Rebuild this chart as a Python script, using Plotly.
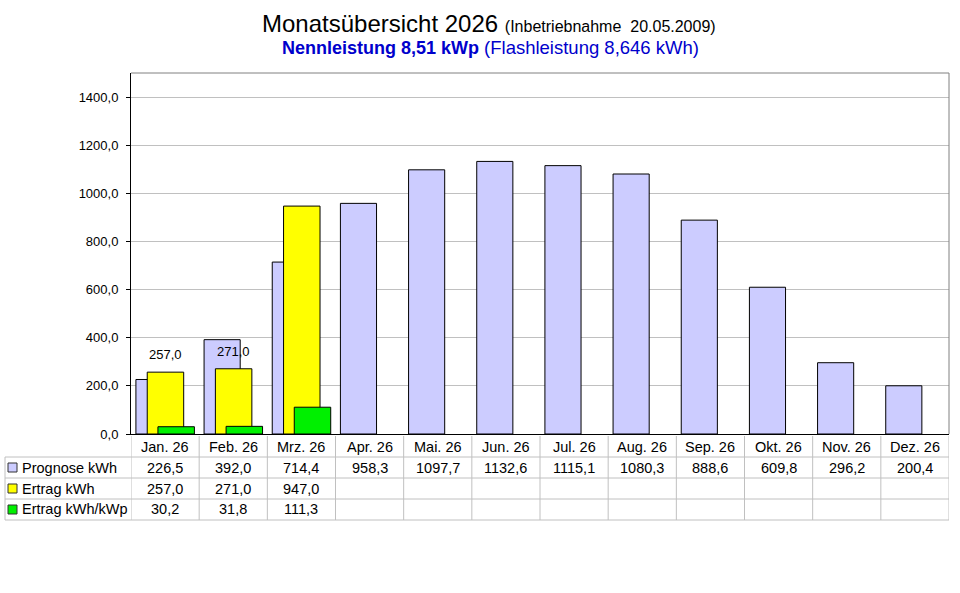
import plotly.graph_objects as go

# ---------------- data ----------------
months = ["Jan. 26", "Feb. 26", "Mrz. 26", "Apr. 26", "Mai. 26", "Jun. 26",
          "Jul. 26", "Aug. 26", "Sep. 26", "Okt. 26", "Nov. 26", "Dez. 26"]
prognose = [226.5, 392.0, 714.4, 958.3, 1097.7, 1132.6, 1115.1, 1080.3, 888.6, 609.8, 296.2, 200.4]
ertrag = [257.0, 271.0, 947.0, None, None, None, None, None, None, None, None, None]
ertrag_kwp = [30.2, 31.8, 111.3, None, None, None, None, None, None, None, None, None]
labeled_months = ["Jan. 26", "Feb. 26"]   # months whose Ertrag value is printed above the bar

series_names = ["Prognose kWh", "Ertrag kWh", "Ertrag kWh/kWp"]
series_values = [prognose, ertrag, ertrag_kwp]
series_colors = ["#CCCCFF", "#FFFF00", "#00F000"]
series_offsets = [-0.428, -0.262, -0.105]
series_widths = [0.53, 0.535, 0.535]

y_ticks = [0, 200, 400, 600, 800, 1000, 1200, 1400]

title_main = "Monatsübersicht 2026"
title_small = "(Inbetriebnahme\u00a0\u00a020.05.2009)"
sub_bold = "Nennleistung 8,51 kWp"
sub_normal = "(Flashleistung 8,646 kWh)"

# ---------------- geometry helpers ----------------
W, H = 960, 593
L, R, T, B = 131, 949, 73, 434   # plot area in pixels


def px(x):
    return (x - L) / (R - L)


def py(y):
    return (B - y) / (B - T)


def fmt(v):
    return "" if v is None else f"{v:.1f}".replace(".", ",")


FONT = "Liberation Sans, Arial, sans-serif"
GRID = "#C0C0C0"

fig = go.Figure()
for name, vals, col, off, wd in zip(series_names, series_values, series_colors,
                                    series_offsets, series_widths):
    fig.add_trace(go.Bar(
        x=months, y=vals, name=name, offset=off, width=wd,
        marker=dict(color=col, line=dict(color="black", width=1)),
        hoverinfo="skip", showlegend=False,
    ))

shapes = []
annotations = []

# gray frame (top and right)
shapes.append(dict(type="line", xref="paper", yref="paper", x0=0, x1=1, y0=1, y1=1,
                   line=dict(color="#808080", width=1)))
shapes.append(dict(type="line", xref="paper", yref="paper", x0=1, x1=1, y0=0, y1=1,
                   line=dict(color="#808080", width=1)))

# bar value labels
for m, v in zip(months, ertrag):
    if m in labeled_months and v is not None:
        annotations.append(dict(x=m, y=v, xref="x", yref="y", text=fmt(v),
                                showarrow=False, yanchor="bottom", yshift=8,
                                font=dict(family=FONT, size=13, color="black")))

# ---------------- data table ----------------
row_lines = [457, 478, 499, 520]
header_y = 447
row_centers = [467.5, 488.5, 509.5]
for yl in row_lines:
    shapes.append(dict(type="line", xref="paper", yref="paper", x0=px(5), x1=1,
                       y0=py(yl), y1=py(yl), line=dict(color=GRID, width=1)))
shapes.append(dict(type="line", xref="paper", yref="paper", x0=px(5), x1=px(5),
                   y0=py(row_lines[0]), y1=py(row_lines[-1]), line=dict(color=GRID, width=1)))
for i in range(len(months) + 1):
    shapes.append(dict(type="line", xref="x", yref="paper", x0=i - 0.5, x1=i - 0.5,
                       y0=py(436), y1=py(row_lines[-1]), line=dict(color=GRID, width=1)))

for i, m in enumerate(months):
    annotations.append(dict(x=i, y=py(header_y), xref="x", yref="paper", text=m,
                            showarrow=False, xanchor="center", yanchor="middle",
                            font=dict(family=FONT, size=14.5, color="black")))

for r, (name, vals, col) in enumerate(zip(series_names, series_values, series_colors)):
    yc = row_centers[r]
    shapes.append(dict(type="rect", xref="paper", yref="paper",
                       x0=px(8), x1=px(17), y0=py(yc + 4.5), y1=py(yc - 4.5),
                       fillcolor=col, line=dict(color="#333333", width=1)))
    annotations.append(dict(x=px(19.5), y=py(yc), xref="paper", yref="paper", text=name,
                            showarrow=False, xanchor="left", yanchor="middle",
                            font=dict(family=FONT, size=14.5, color="black")))
    for i, v in enumerate(vals):
        if v is None:
            continue
        annotations.append(dict(x=i, y=py(yc), xref="x", yref="paper", text=fmt(v),
                                showarrow=False, xanchor="center", yanchor="middle",
                                font=dict(family=FONT, size=14.5, color="black")))

# ---------------- titles ----------------
annotations.append(dict(
    x=px(488.5), y=py(24), xref="paper", yref="paper", showarrow=False,
    xanchor="center", yanchor="middle",
    text=f"<span style='font-size:24px'>{title_main}</span> "
         f"<span style='font-size:16px'>{title_small}</span>",
    font=dict(family=FONT, size=24, color="black")))
annotations.append(dict(
    x=px(490), y=py(47), xref="paper", yref="paper", showarrow=False,
    xanchor="center", yanchor="middle",
    text=f"<b>{sub_bold}</b> <span style='font-size:18.5px'>{sub_normal}</span>",
    font=dict(family=FONT, size=18, color="#0000CC")))

fig.update_layout(
    width=W, height=H,
    margin=dict(l=L, r=W - R, t=T, b=H - B, pad=0),
    paper_bgcolor="white", plot_bgcolor="white",
    barmode="overlay",
    separators=",.",
    showlegend=False,
    xaxis=dict(type="category", categoryorder="array", categoryarray=months,
               range=[-0.5, len(months) - 0.5], showticklabels=False, ticks="",
               showgrid=False, showline=True, linecolor="black", linewidth=1,
               zeroline=False, fixedrange=True),
    yaxis=dict(range=[0, 1500], tickvals=y_ticks, tickformat=".1f",
               ticks="outside", ticklen=4, tickcolor="black", ticklabelstandoff=5,
               showline=True, linecolor="black", linewidth=1,
               showgrid=True, gridcolor=GRID, gridwidth=1, zeroline=False,
               tickfont=dict(family=FONT, size=13, color="black"), fixedrange=True),
    shapes=shapes,
    annotations=annotations,
    font=dict(family=FONT),
)

fig.write_html(
    "out.html",
    config={"displayModeBar": False},
    post_script="document.body.style.margin='0';document.body.style.overflow='hidden';",
)
